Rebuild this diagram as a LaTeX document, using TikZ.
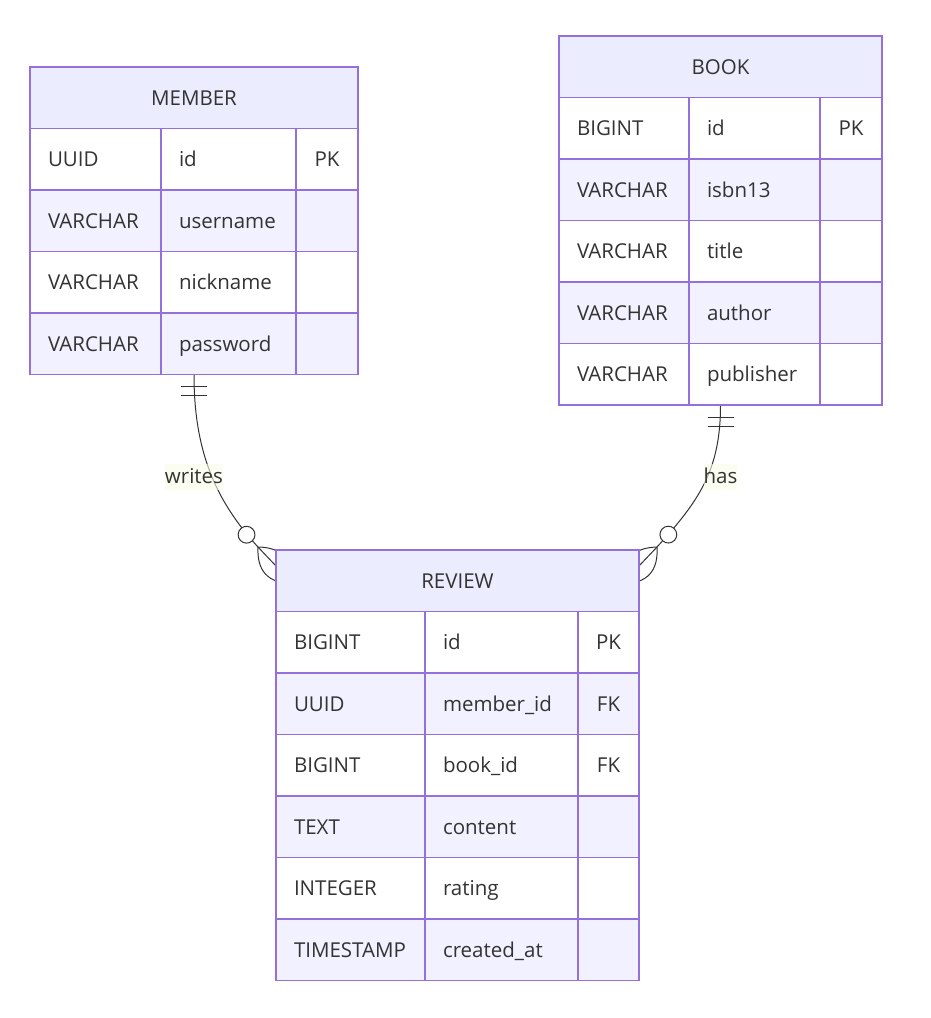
\documentclass[tikz,border=0pt]{standalone}
\usepackage{fontspec}
\setmainfont{Open Sans}
\usepackage{tikz}
\usetikzlibrary{backgrounds}
\definecolor{boxline}{HTML}{9370DB}
\definecolor{headfill}{HTML}{ECECFF}
\definecolor{rowfill}{HTML}{F1F1FF}
\definecolor{relcolor}{HTML}{333333}
\definecolor{labelfill}{HTML}{F6FCE6}
\newcommand{\rowh}{61.5}
\newcommand{\bordw}{1.4pt}

\tikzset{
  head/.style={draw=boxline, fill=headfill, line width=\bordw, anchor=north west,
    minimum height=\rowh pt, inner sep=0pt, outer sep=0pt, text height=15pt, text depth=0pt},
  attr/.style={draw=boxline, line width=\bordw, anchor=north west, minimum height=\rowh pt,
    inner xsep=18pt, inner ysep=0pt, outer sep=0pt, text height=15pt, text depth=0pt, align=left},
  keyattr/.style={attr, inner xsep=0pt, align=center},
  rel/.style={draw=relcolor, line width=1pt},
  rellabel/.style={fill=labelfill, fill opacity=0.6, text opacity=1, inner xsep=0pt, inner ysep=0pt,
    text height=19pt, text depth=7pt}
}

\begin{document}
\begin{tikzpicture}[x=1pt, y=-1pt, font=\fontsize{20.5pt}{24pt}\selectfont, text=relcolor]
\useasboundingbox (0,0) rectangle (930,1018);

% MEMBER
\node[head, minimum width=328pt] (member) at (30,67) {MEMBER};
\foreach \ty/\nm/\ky [count=\i] in {UUID/id/PK, VARCHAR/username/{}, VARCHAR/nickname/{}, VARCHAR/password/{}} {
  \ifodd\i \def\rf{white}\else\def\rf{rowfill}\fi
  \node[attr, fill=\rf, text width=95pt] (m-\i-t) at (30,{67+\rowh*\i}) {\ty};
  \node[attr, fill=\rf, text width=99pt] (m-\i-n) at (m-\i-t.north east) {\nm};
  \node[keyattr, fill=\rf, text width=62pt] (m-\i-k) at (m-\i-n.north east) {\ky};
}

% BOOK
\node[head, minimum width=323pt] (book) at (559,36) {BOOK};
\foreach \ty/\nm/\ky [count=\i] in {BIGINT/id/PK, VARCHAR/isbn13/{}, VARCHAR/title/{}, VARCHAR/author/{}, VARCHAR/publisher/{}} {
  \ifodd\i \def\rf{white}\else\def\rf{rowfill}\fi
  \node[attr, fill=\rf, text width=94pt] (b-\i-t) at (559,{36+\rowh*\i}) {\ty};
  \node[attr, fill=\rf, text width=95pt] (b-\i-n) at (b-\i-t.north east) {\nm};
  \node[keyattr, fill=\rf, text width=62pt] (b-\i-k) at (b-\i-n.north east) {\ky};
}

% REVIEW
\node[head, minimum width=363pt] (review) at (276,550) {REVIEW};
\foreach \ty/\nm/\ky [count=\i] in {BIGINT/id/PK, UUID/member\_id/FK, BIGINT/book\_id/FK, TEXT/content/{}, INTEGER/rating/{}, TIMESTAMP/created\_at/{}} {
  \ifodd\i \def\rf{white}\else\def\rf{rowfill}\fi
  \node[attr, fill=\rf, text width=113pt] (r-\i-t) at (276,{550+\rowh*\i}) {\ty};
  \node[attr, fill=\rf, text width=117pt] (r-\i-n) at (r-\i-t.north east) {\nm};
  \node[keyattr, fill=\rf, text width=61pt] (r-\i-k) at (r-\i-n.north east) {\ky};
}

% relationships
\begin{scope}[on background layer]
\coordinate (w-start) at (member.south |- m-4-t.south);
\draw[rel] (w-start) .. controls +(0,76) and +(-43,-47) .. ([xshift=-18pt,yshift=3pt]review.north west) coordinate (w-tip)
  -- ([yshift=-16pt]review.north west);
\draw[rel] ([xshift=-13pt,yshift=-12pt]w-start) -- +(26,0);
\draw[rel] ([xshift=-13pt,yshift=-21pt]w-start) -- +(26,0);
\begin{scope}[shift={(w-tip)}, rotate=-47]
\draw[rel] (0,0) .. controls (16.7,-17.3) and (33.3,-17.3) .. (50,0) .. controls (33.3,17.3) and (16.7,17.3) .. (0,0);
\draw[rel, fill=white] (-16.8,0) circle (8.4);
\end{scope}
\node[rellabel] (writes) at ([yshift=-102.5pt]w-start) {writes};

\coordinate (h-start) at (book.south |- b-5-t.south);
\draw[rel] (h-start) .. controls +(0,64) and +(43,-47) .. ([xshift=18pt,yshift=3pt]review.north east) coordinate (h-tip)
  -- ([yshift=-16pt]review.north east);
\draw[rel] ([xshift=-13pt,yshift=-12pt]h-start) -- +(26,0);
\draw[rel] ([xshift=-13pt,yshift=-21pt]h-start) -- +(26,0);
\begin{scope}[shift={(h-tip)}, rotate=-132.5]
\draw[rel] (0,0) .. controls (16.7,-17.3) and (33.3,-17.3) .. (50,0) .. controls (33.3,17.3) and (16.7,17.3) .. (0,0);
\draw[rel, fill=white] (-16.8,0) circle (8.4);
\end{scope}
\node[rellabel] (has) at ([yshift=-72pt]h-start) {has};
\end{scope}
\end{tikzpicture}
\end{document}
